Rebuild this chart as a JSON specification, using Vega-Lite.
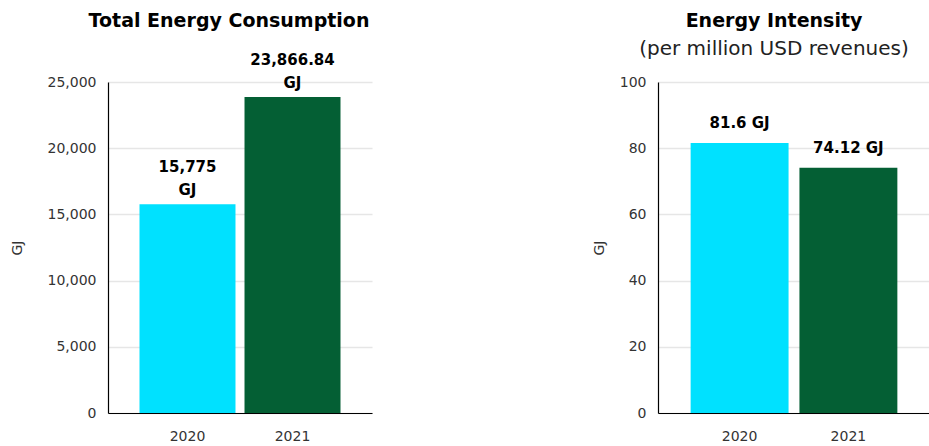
{
  "$schema": "https://vega.github.io/schema/vega-lite/v6.json",
  "background": "white",
  "padding": {"left": 10, "top": 12, "right": 0, "bottom": 0},
  "config": {
    "view": {"stroke": null},
    "font": "DejaVu Sans",
    "axis": {
      "labelFont": "DejaVu Sans",
      "titleFont": "DejaVu Sans",
      "labelColor": "#333",
      "titleColor": "#333",
      "labelFontSize": 14,
      "titleFontSize": 14,
      "titleFontWeight": "normal",
      "domainColor": "#000",
      "domainWidth": 1.2,
      "ticks": false,
      "gridColor": "#e6e6e6",
      "gridWidth": 1.5
    },
    "title": {"font": "DejaVu Sans", "fontSize": 19, "fontWeight": "bold", "color": "#000", "anchor": "middle"}
  },
  "datasets": {
    "total": [
      {"year": "2020", "value": 15775, "label": "15,775\nGJ"},
      {"year": "2021", "value": 23866.84, "label": "23,866.84\nGJ"}
    ],
    "intensity": [
      {"year": "2020", "value": 81.6, "label": "81.6 GJ"},
      {"year": "2021", "value": 74.12, "label": "74.12 GJ"}
    ]
  },
  "spacing": 220,
  "hconcat": [
    {
      "width": 264,
      "height": 331,
      "title": {"text": "Total Energy Consumption", "offset": 22, "dx": -11},
      "data": {"name": "total"},
      "encoding": {
        "x": {"field": "year", "type": "nominal", "title": null,
          "scale": {"paddingInner": 0.086, "paddingOuter": 0.3},
          "axis": {"labelAngle": 0, "labelPadding": 16, "grid": false}},
        "y": {"field": "value", "type": "quantitative", "title": "GJ",
          "scale": {"domain": [0, 25000], "nice": false},
          "axis": {"values": [0, 5000, 10000, 15000, 20000, 25000], "format": ",.0f", "labelPadding": 12, "titlePadding": 23}}
      },
      "layer": [
        {"mark": {"type": "bar"},
          "encoding": {"color": {"field": "year", "type": "nominal", "legend": null,
            "scale": {"domain": ["2020", "2021"], "range": ["#00E1FF", "#045F34"]}}}},
        {"mark": {"type": "text", "fontWeight": "bold", "fontSize": 15, "color": "#000", "baseline": "bottom", "lineBreak": "\n", "lineHeight": 23, "dy": -29},
          "encoding": {"text": {"field": "label"}}}
      ]
    },
    {
      "width": 272,
      "height": 331,
      "title": {"text": "Energy Intensity", "subtitle": "(per million USD revenues)", "subtitleFont": "DejaVu Sans", "subtitleFontSize": 20, "subtitleColor": "#222", "subtitlePadding": 8, "offset": 16, "dx": -20},
      "data": {"name": "intensity"},
      "encoding": {
        "x": {"field": "year", "type": "nominal", "title": null,
          "scale": {"paddingInner": 0.1, "paddingOuter": 0.3},
          "axis": {"labelAngle": 0, "labelPadding": 16, "grid": false}},
        "y": {"field": "value", "type": "quantitative", "title": "GJ",
          "scale": {"domain": [0, 100], "nice": false},
          "axis": {"values": [0, 20, 40, 60, 80, 100], "labelPadding": 12, "titlePadding": 13}}
      },
      "layer": [
        {"mark": {"type": "bar"},
          "encoding": {"color": {"field": "year", "type": "nominal", "legend": null,
            "scale": {"domain": ["2020", "2021"], "range": ["#00E1FF", "#045F34"]}}}},
        {"mark": {"type": "text", "fontWeight": "bold", "fontSize": 15, "color": "#000", "baseline": "bottom", "dy": -12},
          "encoding": {"text": {"field": "label"}}}
      ]
    }
  ],
  "resolve": {"scale": {"color": "independent"}}
}
